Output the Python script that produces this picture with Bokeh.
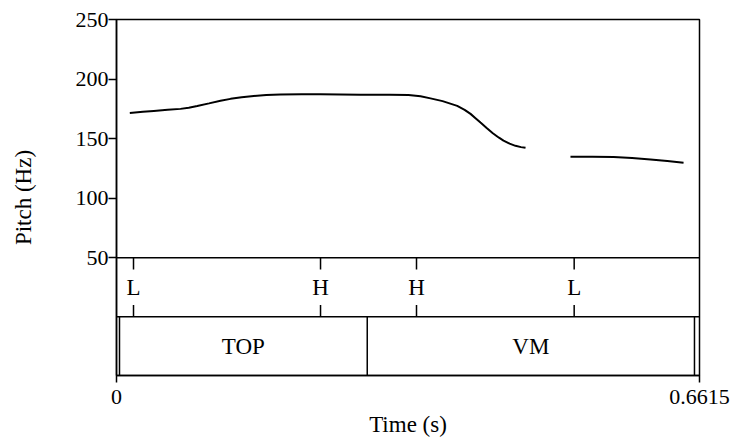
from bokeh.plotting import figure
from bokeh.models import Range1d, FixedTicker
from bokeh.core.properties import value
from bokeh.embed import file_html
from bokeh.resources import INLINE

# ---- data -------------------------------------------------------------
duration = 0.6615
pitch_ticks = [50, 100, 150, 200, 250]
time_ticks = [0, duration]
time_tick_labels = ["0", "0.6615"]

# pitch contour, two voiced stretches (time s, pitch Hz)
seg1_t = [0.0151, 0.0300, 0.0423, 0.0580, 0.0726, 0.0820, 0.0916, 0.1050,
          0.1180, 0.1294, 0.1420, 0.1558, 0.1700, 0.1861, 0.2100, 0.2315,
          0.2769, 0.3100, 0.3313, 0.3450, 0.3563, 0.3700, 0.3866, 0.3950,
          0.4017, 0.4080, 0.4130, 0.4200, 0.4270, 0.4340, 0.4391, 0.4460,
          0.4527, 0.4590, 0.4641]
seg1_f = [171.5, 172.5, 173.3, 174.2, 175.0, 176.0, 177.4, 179.6,
          181.8, 183.4, 184.7, 185.8, 186.6, 187.1, 187.3, 187.2,
          186.9, 186.8, 186.7, 185.6, 183.8, 181.5, 177.5, 174.2,
          170.8, 166.8, 163.5, 159.0, 154.6, 150.8, 148.4, 145.8,
          144.0, 142.9, 142.3]
seg2_t = [0.5151, 0.5400, 0.5640, 0.5850, 0.6059, 0.6250, 0.6434]
seg2_f = [134.8, 134.9, 134.7, 133.8, 132.6, 131.2, 129.8]

# point tier (tones)
tone_times = [0.0193, 0.2315, 0.3404, 0.5193]
tone_labels = ["L", "H", "H", "L"]

# interval tier
interval_bounds = [0.0034, 0.2845, 0.6558]
interval_labels = ["TOP", "VM"]
interval_starts = [0.0034, 0.2845]
interval_ends = [0.2845, 0.6558]

# ---- geometry ----------------------------------------------------------
f_min, f_max = 50, 250
tier_h = 59 * (f_max - f_min) / 239.0   # tier height in pitch units
y_lo = f_min - 2 * tier_h

FONT = "Liberation Serif"

p = figure(width=733, height=439, output_backend="svg", toolbar_location=None,
           x_range=Range1d(0, duration), y_range=Range1d(y_lo, f_max),
           min_border_left=116, min_border_right=34,
           min_border_top=19, min_border_bottom=63)
p.background_fill_color = "white"
p.border_fill_color = "white"
p.outline_line_color = "black"
p.outline_line_width = 1.5
p.xgrid.visible = False
p.ygrid.visible = False

# axes
p.yaxis.ticker = FixedTicker(ticks=pitch_ticks)
p.xaxis.ticker = FixedTicker(ticks=time_ticks)
p.xaxis.major_label_overrides = {t: l for t, l in zip(time_ticks, time_tick_labels)}
for ax in (p.xaxis, p.yaxis):
    ax.axis_line_color = "black"
    ax.axis_line_width = 1.5
    ax.major_tick_line_color = "black"
    ax.major_tick_line_width = 1.5
    ax.minor_tick_line_color = None
    ax.major_tick_in = 0
    ax.major_label_text_font = FONT
    ax.major_label_text_font_size = "22px"
    ax.major_label_text_color = "black"
    ax.axis_label_text_font = FONT
    ax.axis_label_text_font_size = "23px"
    ax.axis_label_text_font_style = "normal"
    ax.axis_label_text_color = "black"
p.yaxis.major_tick_out = 8
p.xaxis.major_tick_out = 7
p.yaxis.major_label_standoff = 0
p.xaxis.major_label_standoff = 7
p.yaxis.axis_label = "Pitch (Hz)"
p.xaxis.axis_label = "Time (s)"
p.yaxis.axis_label_standoff = 37
p.xaxis.axis_label_standoff = 5

# pitch contour
p.multi_line(xs=[seg1_t, seg2_t], ys=[seg1_f, seg2_f], line_color="black",
             line_width=2)

# tier separators
p.segment(x0=[0, 0], x1=[duration, duration], y0=[f_min, f_min - tier_h],
          y1=[f_min, f_min - tier_h], line_color="black", line_width=1.5)

# point tier ticks & labels
n = len(tone_times)
p.segment(x0=tone_times, x1=tone_times, y0=[f_min] * n,
          y1=[f_min - 0.2 * tier_h] * n, line_color="black", line_width=1.5)
p.segment(x0=tone_times, x1=tone_times, y0=[f_min - tier_h] * n,
          y1=[f_min - 0.8 * tier_h] * n, line_color="black", line_width=1.5)
p.text(x=tone_times, y=[f_min - 0.5 * tier_h] * n, text=tone_labels,
       text_align="center", text_baseline="middle", text_color="black",
       text_font=value(FONT), text_font_size="23px")

# interval tier boundaries & labels
m = len(interval_bounds)
p.segment(x0=interval_bounds, x1=interval_bounds, y0=[f_min - 2 * tier_h] * m,
          y1=[f_min - tier_h] * m, line_color="black", line_width=1.5)
mid = [(a + b) / 2 for a, b in zip(interval_starts, interval_ends)]
p.text(x=mid, y=[f_min - 1.5 * tier_h] * len(mid), text=interval_labels,
       text_align="center", text_baseline="middle", text_color="black",
       text_font=value(FONT), text_font_size="23px")

open("out.html", "w").write(file_html(p, INLINE))
